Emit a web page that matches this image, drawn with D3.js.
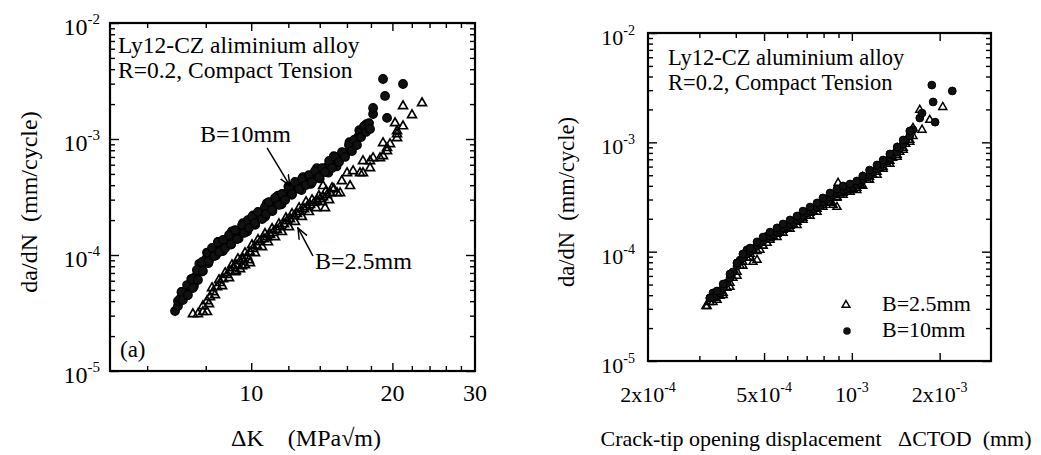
<!DOCTYPE html>
<html><head><meta charset="utf-8">
<script src="https://cdnjs.cloudflare.com/ajax/libs/d3/7.8.5/d3.min.js"></script>
<style>
html,body{margin:0;padding:0;background:#fff;}
text{font-family:"Liberation Serif","Times New Roman",serif;fill:#000;white-space:pre;}
</style></head>
<body><svg id="chart" width="1041" height="455"></svg>
<script>
// ---------- DATA ----------
// Panel (a): da/dN vs ΔK  [ΔK (MPa√m), da/dN (mm/cycle)]
const panelA_B10mm = [
[6.88,3.29e-5],[6.98,3.63e-5],[6.98,4.01e-5],[7.05,4.18e-5],[7.10,4.8e-5],[7.23,4.70e-5],[7.30,4.48e-5],[7.33,5.09e-5],
[7.40,5.40e-5],[7.45,6.2e-5],[7.51,5.97e-5],[7.55,5.4e-5],[7.59,6.46e-5],[7.70,7.28e-5],[7.75,8.4e-5],[7.78,7.72e-5],
[7.85,7.2e-5],[7.89,8.53e-5],[8.01,9.24e-5],[8.05,1.05e-4],[8.10,8.5e-5],[8.17,1.02e-4],[8.29,1.08e-4],[8.40,9.9e-5],
[8.46,1.15e-4],[8.50,1.30e-4],[8.58,1.20e-4],[8.70,1.08e-4],[8.75,1.24e-4],[8.88,1.29e-4],[9.01,1.37e-4],[9.05,1.23e-4],
[9.10,1.60e-4],[9.15,1.46e-4],[9.28,1.55e-4],[9.40,1.39e-4],[9.47,1.61e-4],[9.60,1.88e-4],[9.61,1.68e-4],[9.75,1.78e-4],
[9.80,1.59e-4],[9.94,1.89e-4],[10.09,1.96e-4],[10.1,2.2e-4],[10.2,1.82e-4],[10.24,2.13e-4],[10.44,2.26e-4],[10.60,2.35e-4],
[10.7,2.13e-4],[10.8,2.79e-4],[10.81,2.49e-4],[10.97,2.65e-4],[11.1,2.39e-4],[11.18,2.75e-4],[11.35,2.86e-4],[11.4,3.25e-4],
[11.52,2.98e-4],[11.6,2.73e-4],[11.75,3.23e-4],[11.92,3.42e-4],[12.0,3.9e-4],[12.10,3.63e-4],[12.2,3.30e-4],[12.34,3.86e-4],
[12.52,4.01e-4],[12.71,4.09e-4],[12.8,3.63e-4],[12.9,4.7e-4],[12.96,4.26e-4],[13.15,4.43e-4],[13.35,4.61e-4],[13.4,4.10e-4],
[13.61,4.80e-4],[13.8,5.6e-4],[13.81,4.99e-4],[14.02,5.19e-4],[14.0,4.57e-4],[14.30,5.40e-4],[14.51,5.74e-4],[14.6,5.12e-4],
[14.73,5.97e-4],[15.0,7.1e-4],[15.02,6.33e-4],[15.2,5.8e-4],[15.24,6.73e-4],[15.47,7.00e-4],[15.78,7.43e-4],[16.01,7.72e-4],
[16.2,9.4e-4],[16.25,8.37e-4],[16.49,9.06e-4],[16.73,9.80e-4],[16.90,1.04e-3],[17.0,1.19e-3],[17.23,1.15e-3],[17.49,1.22e-3],
[17.6,1.34e-3],[17.75,1.24e-3],[18.19,1.64e-3],[18.19,1.85e-3],[19.48,1.52e-3],[19.29,2.35e-3],[19.10,3.29e-3],[21.07,2.98e-3],
[7.12,4.80e-5],[7.15,4.09e-5],[7.30,5.51e-5],[7.33,4.52e-5],[7.48,6.21e-5],[7.51,5.19e-5],[7.66,7.42e-5],[7.70,6.09e-5],
[7.86,8.70e-5],[7.89,7.28e-5],[8.09,1.04e-4],[8.13,8.88e-5],[8.25,1.15e-4],[8.33,9.80e-5],[8.50,1.29e-4],[8.54,1.06e-4],
[8.71,1.35e-4],[8.80,1.15e-4],[8.97,1.49e-4],[9.06,1.24e-4],[9.24,1.64e-4],[9.33,1.37e-4],[9.56,1.81e-4],[9.65,1.55e-4],
[9.84,2.00e-4],[9.89,1.71e-4],[10.04,2.13e-4],[10.19,1.89e-4],[10.34,2.35e-4],[10.55,2.04e-4],[10.70,2.59e-4],[10.76,2.26e-4],
[10.91,2.86e-4],[11.08,2.44e-4],[11.24,3.10e-4],[11.46,2.70e-4],[11.63,3.36e-4],[11.81,2.98e-4],[12.04,3.86e-4],[12.22,3.36e-4],
[12.40,4.26e-4],[12.65,3.71e-4],[12.83,4.52e-4],[13.09,4.01e-4],[13.28,4.89e-4],[13.48,4.26e-4],[13.68,5.30e-4],[13.95,4.70e-4],
[14.16,5.62e-4],[14.37,5.19e-4],[14.66,6.46e-4],[14.87,5.62e-4],[15.09,7.00e-4],[15.39,6.33e-4],[15.62,7.72e-4],[15.85,7.00e-4],
[16.16,8.87e-4],[16.40,7.88e-4],[16.57,9.80e-4],[16.81,8.87e-4],[17.06,1.15e-3],[17.15,1.04e-3],[17.40,1.29e-3],[17.57,1.15e-3],
[17.83,1.37e-3],[17.92,1.22e-3]
];
const panelA_B25mm = [
[7.51,3.10e-5],[7.70,3.10e-5],[7.89,3.23e-5],[8.05,3.23e-5],[7.89,3.63e-5],[8.05,4.01e-5],[8.17,4.34e-5],[8.29,4.80e-5],
[8.46,5.30e-5],[8.58,5.74e-5],[8.71,6.21e-5],[8.88,6.73e-5],[9.01,7.28e-5],[9.15,7.72e-5],[9.28,8.20e-5],[9.47,8.88e-5],
[9.61,9.24e-5],[9.80,9.80e-5],[9.94,1.06e-4],[10.09,1.13e-4],[10.29,1.20e-4],[10.44,1.29e-4],[10.65,1.37e-4],[10.81,1.43e-4],
[10.97,1.49e-4],[11.13,1.55e-4],[11.35,1.64e-4],[11.52,1.74e-4],[11.75,1.85e-4],[11.92,1.96e-4],[12.10,2.04e-4],[12.34,2.17e-4],
[12.52,2.26e-4],[12.71,2.35e-4],[12.96,2.49e-4],[13.15,2.59e-4],[13.35,2.70e-4],[13.61,2.81e-4],[13.81,2.92e-4],[14.02,3.04e-4],
[14.23,3.16e-4],[14.51,3.29e-4],[14.73,3.42e-4],
[9.28,7.28e-5],[9.47,7.57e-5],[9.70,8.20e-5],[9.94,8.53e-5],
[8.13,3.78e-5],[8.37,4.52e-5],[8.67,5.40e-5],[8.97,6.33e-5],[9.24,7.14e-5],[9.56,8.04e-5],[9.89,9.06e-5],[10.19,1.04e-4],
[10.55,1.17e-4],[10.86,1.29e-4],[11.24,1.43e-4],[11.63,1.58e-4],[12.04,1.74e-4],[12.40,1.93e-4],[12.83,2.13e-4],[13.28,2.35e-4],
[13.75,2.54e-4],[14.16,2.86e-4],[14.66,2.98e-4],
[8.25,5.19e-5],[8.54,6.09e-5],[8.80,7.00e-5],[9.10,8.20e-5],[9.37,9.24e-5],[9.70,1.04e-4],[10.04,1.22e-4],[10.34,1.35e-4],
[10.70,1.52e-4],[11.08,1.68e-4],[11.46,1.85e-4],[11.86,2.08e-4],[12.22,2.26e-4],[12.65,2.54e-4],[13.09,2.86e-4],[13.48,2.98e-4],
[13.95,3.23e-4],[14.44,3.56e-4],[14.87,3.78e-4],
[14.37,2.54e-4],[14.23,3.94e-4],[15.0,3.7e-4],[15.24,3.42e-4],[15.47,3.42e-4],[15.6,4.34e-4],[16.25,3.94e-4],[16.01,5.09e-4],
[16.49,5.30e-4],[17.06,5.09e-4],[17.31,5.09e-4],[17.31,6.46e-4],[17.92,5.62e-4],[17.92,6.46e-4],[18.19,6.86e-4],[18.82,6.86e-4],
[19.10,7.14e-4],[19.48,7.88e-4],[19.48,8.37e-4],[19.10,9.24e-4],[19.77,9.06e-4],[20.46,1.02e-3],[20.46,1.10e-3],[20.46,1.17e-3],
[20.26,1.37e-3],[21.07,1.29e-3],[22.02,1.61e-3],[21.07,1.92e-3],[23.13,2.04e-3]
];
// Panel (b): da/dN vs ΔCTOD  [ΔCTOD (mm), da/dN (mm/cycle)]
const panelB_B10mm = [
[3.34e-4,4.19e-5],[3.26e-4,3.77e-5],[3.42e-4,3.93e-5],[3.53e-4,4.19e-5],[3.62e-4,4.65e-5],[3.73e-4,5.17e-5],[3.82e-4,5.74e-5],
[3.91e-4,6.52e-5],[4.04e-4,7.88e-5],[4.04e-4,7.39e-5],[4.14e-4,8.39e-5],[4.23e-4,8.75e-5],[4.37e-4,9.52e-5],[4.37e-4,1.04e-4],
[4.48e-4,1.01e-4],[4.58e-4,1.06e-4],[4.73e-4,1.13e-4],[4.84e-4,1.20e-4],[4.96e-4,1.25e-4],[5.12e-4,1.33e-4],[5.12e-4,1.39e-4],
[5.24e-4,1.39e-4],[5.37e-4,1.45e-4],[5.54e-4,1.51e-4],[5.67e-4,1.58e-4],[5.81e-4,1.65e-4],[6.00e-4,1.72e-4],[6.14e-4,1.79e-4],
[6.29e-4,1.87e-4],[6.49e-4,1.95e-4],[6.64e-4,2.03e-4],[6.80e-4,2.12e-4],[7.02e-4,2.26e-4],[7.19e-4,2.35e-4],[7.36e-4,2.46e-4],
[7.60e-4,2.56e-4],[7.78e-4,2.67e-4],[7.96e-4,2.85e-4],[8.22e-4,3.03e-4],[8.42e-4,3.16e-4],[8.62e-4,3.30e-4],[8.89e-4,3.44e-4],
[9.11e-4,3.51e-4],[9.33e-4,3.66e-4],[9.63e-4,3.74e-4],[9.86e-4,3.82e-4],[1.01e-3,3.90e-4],[1.04e-3,4.07e-4],[1.07e-3,4.25e-4],
[1.09e-3,4.52e-4],[1.13e-3,4.82e-4],[1.15e-3,5.03e-4],[1.18e-3,5.35e-4],[1.22e-3,5.70e-4],[1.25e-3,5.95e-4],[1.28e-3,6.34e-4],
[1.32e-3,6.75e-4],[1.35e-3,7.19e-4],[1.38e-3,7.66e-4],[1.43e-3,8.16e-4],[1.46e-3,8.87e-4],[1.50e-3,9.65e-4],[1.53e-3,1.05e-3],
[1.58e-3,1.14e-3],[1.62e-3,1.30e-3],[1.71e-3,1.67e-3],[1.74e-3,1.85e-3],[1.88e-3,3.34e-3],[1.90e-3,2.34e-3],[1.93e-3,1.53e-3],
[2.21e-3,2.95e-3],
[3.26e-4,3.77e-5],[3.45e-4,4.37e-5],[3.62e-4,5.06e-5],[3.82e-4,6.25e-5],[4.04e-4,7.88e-5],[4.23e-4,9.52e-5],[4.48e-4,1.08e-4],
[4.73e-4,1.23e-4],[4.96e-4,1.36e-4],[5.24e-4,1.51e-4],[5.54e-4,1.65e-4],[5.81e-4,1.79e-4],[6.14e-4,1.95e-4],[6.49e-4,2.12e-4],
[6.80e-4,2.35e-4],[7.19e-4,2.56e-4],[7.60e-4,2.79e-4],[7.96e-4,3.10e-4],[8.42e-4,3.44e-4],[8.89e-4,3.74e-4],[9.33e-4,3.99e-4],
[9.86e-4,4.16e-4],[1.04e-3,4.43e-4],[1.09e-3,4.92e-4],[1.15e-3,5.58e-4],[1.22e-3,6.21e-4],[1.28e-3,6.89e-4],[1.35e-3,7.82e-4],
[1.43e-3,9.06e-4],[1.50e-3,1.05e-3],[1.58e-3,1.27e-3]
];
const panelB_B25mm = [
[3.16e-4,3.18e-5],[3.19e-4,3.18e-5],[3.26e-4,3.46e-5],[3.34e-4,3.46e-5],[3.42e-4,3.77e-5],[3.53e-4,3.93e-5],[3.62e-4,4.19e-5],
[3.73e-4,4.65e-5],[3.82e-4,5.17e-5],[3.91e-4,5.74e-5],[4.04e-4,6.52e-5],[4.14e-4,7.39e-5],[4.23e-4,8.04e-5],[4.37e-4,8.75e-5],
[4.48e-4,9.52e-5],[4.58e-4,8.04e-5],[4.73e-4,8.39e-5],[4.84e-4,1.04e-4],[4.96e-4,1.13e-4],[5.12e-4,1.20e-4],[5.24e-4,1.33e-4],
[5.37e-4,1.39e-4],[5.54e-4,1.45e-4],[5.67e-4,1.51e-4],[5.81e-4,1.58e-4],[6.00e-4,1.65e-4],[6.14e-4,1.72e-4],[6.29e-4,1.79e-4],
[6.49e-4,1.87e-4],[6.64e-4,1.95e-4],[6.80e-4,2.03e-4],[7.02e-4,2.12e-4],[7.19e-4,2.26e-4],[7.36e-4,2.35e-4],[7.60e-4,2.46e-4],
[7.78e-4,2.56e-4],[7.96e-4,2.67e-4],[8.22e-4,2.85e-4],[8.42e-4,2.85e-4],[8.62e-4,2.67e-4],[8.89e-4,2.56e-4],[8.89e-4,3.16e-4],
[8.97e-4,4.25e-4],[9.11e-4,3.30e-4],[9.33e-4,3.44e-4],[9.63e-4,3.51e-4],[9.86e-4,3.66e-4],[1.01e-3,3.74e-4],[1.04e-3,3.82e-4],
[1.07e-3,4.07e-4],[1.09e-3,4.82e-4],[1.13e-3,4.52e-4],[1.15e-3,4.82e-4],[1.18e-3,5.03e-4],[1.22e-3,5.95e-4],[1.22e-3,5.35e-4],
[1.25e-3,5.70e-4],[1.28e-3,5.95e-4],[1.32e-3,6.34e-4],[1.35e-3,6.75e-4],[1.38e-3,7.19e-4],[1.43e-3,8.87e-4],[1.43e-3,7.66e-4],
[1.46e-3,8.16e-4],[1.50e-3,8.87e-4],[1.53e-3,9.65e-4],[1.58e-3,1.05e-3],[1.62e-3,1.14e-3],[1.62e-3,1.35e-3],[1.74e-3,1.30e-3],
[1.71e-3,1.98e-3],[1.85e-3,1.60e-3],[2.05e-3,2.10e-3],
[3.45e-4,3.61e-5],[3.62e-4,4.01e-5],[3.82e-4,4.75e-5],[4.04e-4,5.99e-5],[4.23e-4,7.39e-5],[4.48e-4,8.75e-5],[4.73e-4,1.01e-4],
[4.96e-4,1.13e-4],[5.24e-4,1.28e-4],[5.54e-4,1.36e-4],[5.81e-4,1.48e-4],[6.14e-4,1.61e-4],[6.49e-4,1.75e-4],[6.80e-4,1.95e-4],
[7.19e-4,2.12e-4],[7.60e-4,2.31e-4],[7.96e-4,2.56e-4],[8.42e-4,2.79e-4],[8.89e-4,3.10e-4],[9.33e-4,3.30e-4],[9.86e-4,3.51e-4],
[1.04e-3,3.66e-4],[1.09e-3,3.99e-4],[1.15e-3,4.52e-4],[1.22e-3,5.03e-4],[1.28e-3,5.70e-4],[1.35e-3,6.34e-4],[1.43e-3,7.34e-4],
[1.50e-3,8.51e-4],[1.58e-3,1.01e-3]
];
// Axis ticks / labels
const yDomain = [1e-5, 1e-2];
const yDecades = [1e-5, 1e-4, 1e-3, 1e-2];
const yMinor = [2,3,4,5,6,7,8,9].flatMap(k => [k*1e-5, k*1e-4, k*1e-3]);
const panelA_xDomain = [5, 30];
const panelA_xMajor = [10, 20];
const panelA_xMinor = [6, 8, 12, 14, 16, 18, 22, 24, 26, 28];
const panelA_xLabels = [10, 20, 30];
const panelB_xDomain = [2e-4, 3e-3];
const panelB_xMajor = [5e-4, 1e-3, 2e-3];
const panelB_xMinor = [3e-4, 4e-4, 6e-4, 7e-4, 8e-4, 9e-4];
const panelB_xLabels = [[2e-4, "2x10", "-4"], [5e-4, "5x10", "-4"], [1e-3, "10", "-3"], [2e-3, "2x10", "-3"]];

// ---------- DRAW ----------
const svg = d3.select("#chart");
svg.append("rect").attr("width", 1041).attr("height", 455).attr("fill", "#fff");

function supText(g, x, y, base, exp, anchor, fs, sfs) {
  const t = g.append("text").attr("x", x).attr("y", y).attr("text-anchor", anchor).attr("font-size", fs);
  t.append("tspan").text(base);
  t.append("tspan").attr("dy", -Math.round(fs * 0.45)).attr("font-size", sfs).text(exp);
  return t;
}

function frame(g, x, y, b, xMajor, xMinor) {
  const strip = s => s.call(a => a.select(".domain").remove()).call(a => a.selectAll("text").remove())
                     .call(a => a.selectAll("line").attr("stroke", "#000").attr("stroke-width", 1.4));
  g.append("g").attr("transform", `translate(0,${b.y1})`).call(d3.axisBottom(x).tickValues(xMinor).tickSize(-5)).call(strip);
  g.append("g").attr("transform", `translate(0,${b.y1})`).call(d3.axisBottom(x).tickValues(xMajor).tickSize(-8)).call(strip);
  g.append("g").attr("transform", `translate(0,${b.y0})`).call(d3.axisTop(x).tickValues(xMinor).tickSize(-5)).call(strip);
  g.append("g").attr("transform", `translate(0,${b.y0})`).call(d3.axisTop(x).tickValues(xMajor).tickSize(-8)).call(strip);
  g.append("g").attr("transform", `translate(${b.x0},0)`).call(d3.axisLeft(y).tickValues(yMinor).tickSize(-5)).call(strip);
  g.append("g").attr("transform", `translate(${b.x0},0)`).call(d3.axisLeft(y).tickValues(yDecades).tickSize(-9)).call(strip);
  g.append("g").attr("transform", `translate(${b.x1},0)`).call(d3.axisRight(y).tickValues(yMinor).tickSize(-5)).call(strip);
  g.append("g").attr("transform", `translate(${b.x1},0)`).call(d3.axisRight(y).tickValues(yDecades).tickSize(-9)).call(strip);
  g.append("rect").attr("x", b.x0).attr("y", b.y0).attr("width", b.x1 - b.x0).attr("height", b.y1 - b.y0)
    .attr("fill", "none").attr("stroke", "#000").attr("stroke-width", 2.2);
}

svg.append("defs").append("marker").attr("id", "arr").attr("viewBox", "0 -6 12 12")
  .attr("refX", 11).attr("refY", 0).attr("markerWidth", 12).attr("markerHeight", 12)
  .attr("markerUnits", "userSpaceOnUse").attr("orient", "auto")
  .append("path").attr("d", "M0,-4.5L11,0L0,4.5").attr("fill", "none").attr("stroke", "#000").attr("stroke-width", 1.5);

// ----- Panel (a) -----
{
  const b = {x0: 110, x1: 475, y0: 23, y1: 371};
  const g = svg.append("g");
  const x = d3.scaleLog().domain(panelA_xDomain).range([b.x0, b.x1]);
  const y = d3.scaleLog().domain(yDomain).range([b.y1, b.y0]);
  frame(g, x, y, b, panelA_xMajor, panelA_xMinor);

  const tri = d3.symbol().type(d3.symbolTriangle).size(34);
  g.append("g").selectAll("path").data(panelA_B25mm).join("path")
    .attr("transform", d => `translate(${x(d[0])},${y(d[1])})`).attr("d", tri)
    .attr("fill", "none").attr("stroke", "#000").attr("stroke-width", 1.7);
  g.append("g").selectAll("circle").data(panelA_B10mm).join("circle")
    .attr("cx", d => x(d[0])).attr("cy", d => y(d[1])).attr("r", 4.3)
    .attr("fill", "#111").attr("stroke", "#000").attr("stroke-width", 1.2);

  yDecades.forEach(v => supText(g, b.x0 - 10, y(v) + 12, "10", String(Math.round(Math.log10(v))), "end", 24, 15));
  panelA_xLabels.forEach(v => g.append("text").attr("x", x(v)).attr("y", 401).attr("text-anchor", "middle").attr("font-size", 24).text(v));

  g.append("text").attr("transform", "translate(37,202) rotate(-90)").attr("text-anchor", "middle")
    .attr("font-size", 24).text("da/dN  (mm/cycle)");
  g.append("text").attr("x", 306).attr("y", 446).attr("text-anchor", "middle").attr("font-size", 24).text("ΔK    (MPa√m)");

  g.append("text").attr("x", 118).attr("y", 53).attr("font-size", 23.5).text("Ly12-CZ aliminium alloy");
  g.append("text").attr("x", 118).attr("y", 78).attr("font-size", 23.5).text("R=0.2, Compact Tension");
  g.append("text").attr("x", 120).attr("y", 357).attr("font-size", 23).text("(a)");

  // annotations (in data coordinates)
  g.append("text").attr("x", x(7.78)).attr("y", y(9.4e-4)).attr("font-size", 24).text("B=10mm");
  g.append("line").attr("x1", x(10.81)).attr("y1", y(8.37e-4)).attr("x2", x(12.10)).attr("y2", y(3.94e-4))
    .attr("stroke", "#000").attr("stroke-width", 1.5).attr("marker-end", "url(#arr)");
  g.append("text").attr("x", x(13.68)).attr("y", y(7.57e-5)).attr("font-size", 24).text("B=2.5mm");
  g.append("line").attr("x1", x(13.54)).attr("y1", y(9.8e-5)).attr("x2", x(12.58)).attr("y2", y(1.71e-4))
    .attr("stroke", "#000").attr("stroke-width", 1.5).attr("marker-end", "url(#arr)");
}

// ----- Panel (b) -----
{
  const b = {x0: 648, x1: 991, y0: 33, y1: 361};
  const g = svg.append("g");
  const x = d3.scaleLog().domain(panelB_xDomain).range([b.x0, b.x1]);
  const y = d3.scaleLog().domain(yDomain).range([b.y1, b.y0]);
  frame(g, x, y, b, panelB_xMajor, panelB_xMinor);

  const tri = d3.symbol().type(d3.symbolTriangle).size(28);
  g.append("g").selectAll("path").data(panelB_B25mm).join("path")
    .attr("transform", d => `translate(${x(d[0])},${y(d[1])})`).attr("d", tri)
    .attr("fill", "none").attr("stroke", "#000").attr("stroke-width", 1.5);
  g.append("g").selectAll("circle").data(panelB_B10mm).join("circle")
    .attr("cx", d => x(d[0])).attr("cy", d => y(d[1])).attr("r", 3.9)
    .attr("fill", "#111").attr("stroke", "#000").attr("stroke-width", 1);

  yDecades.forEach(v => supText(g, b.x0 - 13, y(v) + 12, "10", String(Math.round(Math.log10(v))), "end", 22, 14));
  panelB_xLabels.forEach(([v, base, exp]) => supText(g, x(v), 402, base, exp, "middle", 22, 14));

  g.append("text").attr("transform", "translate(574,202) rotate(-90)").attr("text-anchor", "middle")
    .attr("font-size", 22.5).text("da/dN  (mm/cycle)");
  g.append("text").attr("x", 816).attr("y", 446).attr("text-anchor", "middle").attr("font-size", 22)
    .text("Crack-tip opening displacement   ΔCTOD  (mm)");

  g.append("text").attr("x", 668).attr("y", 65).attr("font-size", 22.5).text("Ly12-CZ aluminium alloy");
  g.append("text").attr("x", 668).attr("y", 90).attr("font-size", 22.5).text("R=0.2, Compact Tension");

  // legend
  const lg = g.append("g").attr("transform", `translate(${b.x0},${b.y0})`);
  lg.append("path").attr("transform", "translate(198,272)").attr("d", d3.symbol().type(d3.symbolTriangle).size(26))
    .attr("fill", "none").attr("stroke", "#000").attr("stroke-width", 1.5);
  lg.append("text").attr("x", 234).attr("y", 278).attr("font-size", 22).text("B=2.5mm");
  lg.append("circle").attr("cx", 199).attr("cy", 298).attr("r", 3.8).attr("fill", "#111");
  lg.append("text").attr("x", 234).attr("y", 304).attr("font-size", 22).text("B=10mm");
}
</script>
</body></html>
